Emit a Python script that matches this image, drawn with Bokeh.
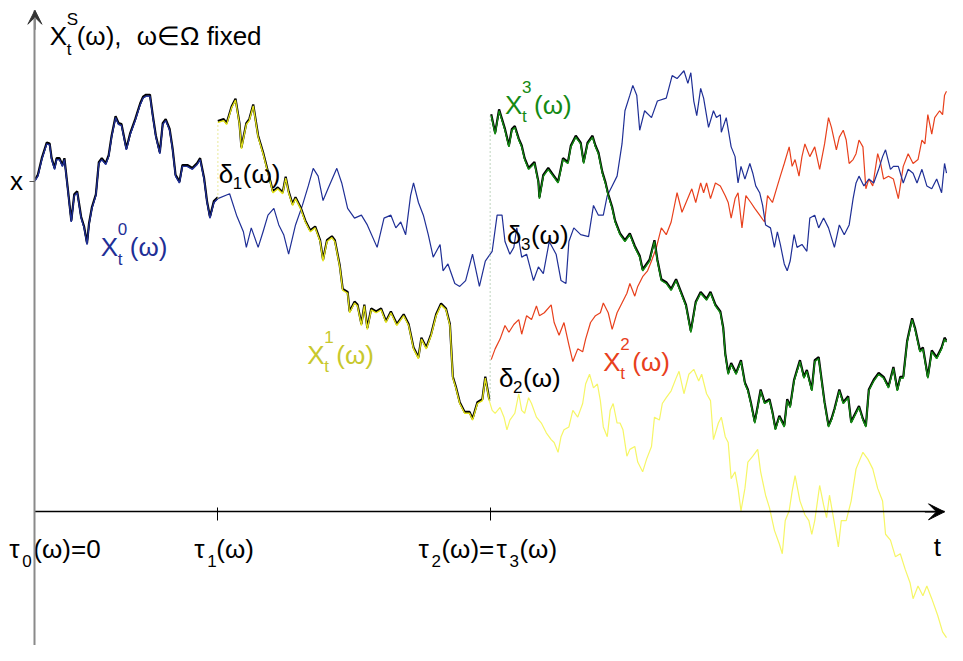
import numpy as np
from bokeh.plotting import figure
from bokeh.models import Range1d, Arrow, VeeHead, LinearAxis, FixedTicker
from bokeh.core.properties import value
from bokeh.embed import file_html
from bokeh.resources import INLINE

# ---------------- data (time t, value x) ----------------
TAU1 = 186          # tau_1(omega)
TAU2 = 463          # tau_2(omega) = tau_3(omega)
X_START = 339       # starting level x
T_END = 925         # end of the time axis
V_TOP = 514         # top of the value axis

# X^0_t (blue)
X0 = [(0,339),(3,344),(7,361),(12,377),(15,376),(17,361),(20,351),(22,361),(25,361),(28,354),(30,361),
      (33,334),(37,297),(40,324),(43,327),(47,301),(50,291),(53,274),(55,294),(58,311),(62,324),(65,357),
      (68,361),(72,356),(75,364),(78,384),(82,404),(85,397),(88,396),(93,371),(97,387),(102,401),(107,417),
      (110,424),(113,426),(117,426),(120,404),(123,384),(127,367),(130,397),(133,401),(137,391),(140,371),
      (143,344),(147,337),(150,354),(155,354),(160,351),(165,356),(168,361),(172,341),(175,317),(178,301),
      (182,317),(186,321),(198,326),(205,304),(212,287),(215,271),(220,291),(227,271),(232,287),(237,304),
      (243,311),(248,294),(253,284),(258,264),(265,294),(272,314),(278,334),(283,352),(288,344),(293,319),
      (298,331),(307,352),(312,337),(318,311),(325,301),(332,304),(338,294),(348,271),(355,301),(362,304),
      (367,291),(372,297),(377,284),(382,324),(385,337),(390,317),(395,304),(400,284),(405,261),(412,274),
      (415,247),(420,254),(427,234),(432,231),(438,237),(445,264),(452,231),(458,257),(465,267),(470,304),
      (475,304),(478,277),(483,264),(487,271),(490,291),(495,261),(500,264),(507,237),(512,251),(517,244),
      (523,277),(530,264),(535,237),(540,234),(543,277),(548,291),(555,284),(563,282),(568,314),(573,304),
      (578,304),(582,324),(587,334),(592,344),(597,377),(600,411),(605,427),(608,437),(612,427),(615,391),
      (620,411),(627,404),(633,421),(642,424),(648,447),(653,444),(660,452),(664,439),(667,450),(670,421),
      (673,406),(677,434),(680,424),(685,394),(690,411),(693,404),(697,407),(698,389),(703,404),(708,374),
      (712,364),(713,354),(715,337),(718,354),(722,341),(727,357),(730,347),(733,334),(737,327),(740,314),
      (743,294),(748,291),(752,271),(755,287),(758,274),(762,254),(765,247),(768,257),(772,284),(775,271),
      (780,274),(785,267),(788,301),(793,304),(797,291),(802,301),(807,291),(813,271),(818,294),(823,284),
      (828,294),(832,321),(835,337),(838,344),(843,334),(848,341),(853,337),(858,351),(862,364),(865,371),
      (870,351),(873,354),(878,354),(883,337),(888,351),(893,347),(897,337),(902,351),(907,334),(912,331),
      (917,341),(922,327),(925,357),(927,347)]

# X^1_t (yellow), starts at tau_1
X1 = [(186,399),(192,401),(195,397),(200,414),(204,422),(208,397),(210,372),(215,397),(218,401),(222,416),
      (227,384),(232,367),(237,347),(242,327),(247,331),(252,326),(255,342),(258,327),(262,314),(265,321),
      (270,311),(275,297),(280,287),(285,291),(290,277),(293,257),(297,277),(302,281),(305,277),(310,251),
      (313,227),(318,224),(320,204),(325,214),(328,211),(332,191),(335,211),(338,187),(342,207),(347,204),
      (352,207),(357,194),(362,204),(368,191),(375,201),(380,191),(385,167),(390,157),(393,177),(398,167),
      (403,181),(408,201),(413,212),(418,207),(422,191),(425,137),(428,127),(432,111),(437,101),(442,101),
      (445,94),(450,111),(455,114),(458,137),(462,114),(465,104),(468,101),(473,107),(477,97),(480,84),
      (483,94),(488,101),(492,121),(495,104),(498,101),(502,117),(505,111),(510,97),(515,91),(520,81),
      (525,74),(528,71),(532,61),(535,77),(538,84),(543,87),(547,104),(552,97),(557,111),(560,131),
      (564,141),(568,127),(572,131),(575,114),(578,87),(582,77),(585,104),(588,111),(592,91),(595,91),
      (598,84),(602,57),(605,64),(610,67),(613,51),(618,41),(622,54),(627,67),(630,97),(635,94),(638,111),
      (642,117),(647,124),(652,137),(655,144),(660,121),(665,141),(670,146),(675,134),(678,141),(683,121),
      (687,114),(690,74),(695,91),(698,97),(702,77),(705,71),(708,34),(712,41),(715,24),(718,1),(722,24),
      (725,51),(730,57),(735,64),(738,41),(743,17),(747,4),(752,-19),(757,-33),(760,-43),(763,-9),(767,1),
      (770,21),(773,37),(778,11),(783,-3),(787,-9),(790,-23),(793,-9),(798,27),(802,7),(805,-6),(808,17),
      (812,-6),(817,-36),(820,-9),(825,-9),(830,11),(835,44),(842,61),(847,54),(852,44),(857,24),(862,11),
      (865,-23),(870,-29),(875,-46),(880,-43),(885,-59),(890,-73),(893,-89),(898,-76),(903,-86),(907,-76),
      (912,-89),(918,-106),(923,-123),(927,-129)]

# X^2_t (red), starts at tau_2
X2 = [(464,156),(468,167),(473,177),(478,191),(482,184),(487,192),(492,197),(495,182),(500,201),(505,197),
      (510,211),(513,201),(518,204),(525,212),(528,194),(533,181),(538,194),(543,171),(547,154),(552,167),
      (557,164),(560,177),(565,194),(570,201),(575,204),(578,214),(583,204),(587,187),(592,204),(597,214),
      (602,224),(605,234),(610,221),(613,231),(618,241),(623,247),(627,257),(632,271),(637,291),(642,284),
      (647,297),(653,327),(658,307),(665,324),(668,331),(672,317),(677,337),(680,327),(683,337),(687,321),
      (692,337),(697,334),(702,324),(705,317),(708,301),(712,321),(715,327),(719,291),(723,324),(728,317),
      (732,311),(737,304),(742,297),(745,324),(750,317),(755,334),(758,344),(762,357),(767,374),(770,354),
      (773,361),(777,344),(780,364),(783,377),(788,364),(793,374),(798,351),(803,377),(807,404),(810,394),
      (815,371),(818,384),(822,391),(825,381),(828,357),(832,361),(835,367),(838,381),(842,374),(845,331),
      (848,341),(852,334),(857,367),(860,357),(863,341),(868,344),(873,341),(878,321),(883,354),(888,367),
      (893,357),(898,361),(902,381),(905,377),(908,407),(912,387),(915,404),(920,411),(923,407),(925,427),
      (927,431)]

# X^3_t (green), starts at tau_3
X3 = [(464,406),(468,387),(472,411),(475,401),(478,391),(482,374),(485,391),(488,394),(492,381),(495,374),
      (498,361),(502,351),(505,354),(508,357),(512,337),(513,321),(517,344),(522,351),(527,344),(532,337),
      (537,361),(542,357),(545,374),(550,384),(555,377),(558,357),(562,377),(567,384),(570,374),(573,367),
      (577,347),(580,337),(583,324),(587,311),(590,297),(595,284),(600,277),(605,284),(610,271),(615,261),
      (618,247),(625,257),(630,277),(633,257),(637,237),(642,234),(647,227),(652,237),(657,224),(662,211),
      (667,184),(672,214),(677,224),(683,217),(687,224),(692,211),(697,204),(700,187),(702,161),(705,141),
      (708,151),(713,141),(718,154),(722,131),(725,124),(728,111),(732,91),(735,107),(738,124),(742,111),
      (747,114),(750,101),(753,84),(757,97),(762,87),(765,114),(768,107),(772,134),(775,144),(778,154),
      (782,137),(785,144),(790,124),(793,154),(797,157),(800,134),(803,111),(807,87),(810,94),(813,104),
      (818,124),(822,111),(827,117),(830,91),(833,97),(838,107),(842,94),(845,87),(848,124),(853,134),
      (858,141),(863,137),(868,127),(873,147),(877,124),(880,137),(883,137),(887,174),(892,197),(895,187),
      (900,164),(903,167),(908,137),(912,164),(917,157),(922,167),(925,177),(927,174)]

BLUE = "#1f2f96"
RED = "#e8401c"
YELLOW = "#f6f666"
YELLOW_DARK = "#e2e21a"
YELLOW_TXT = "#c8c82c"
GREEN = "#148a14"
FONT = "Liberation Sans"


def unzip(pts):
    a = np.array(pts, dtype=float)
    return a[:, 0], a[:, 1]


t0, v0 = unzip(X0)
t1, v1 = unzip(X1)
t2, v2 = unzip(X2)
t3, v3 = unzip(X3)

p = figure(width=947, height=645, x_range=Range1d(-35, 928), y_range=Range1d(-137, 524),
           output_backend="svg", toolbar_location=None, min_border=0,
           x_axis_type=None, y_axis_type=None)
p.outline_line_color = None
p.background_fill_color = "white"
p.border_fill_color = "white"

# ---------------- axes ----------------
xax = LinearAxis(fixed_location=0, ticker=FixedTicker(ticks=[TAU1, TAU2], minor_ticks=[]),
                 bounds=(0, T_END), axis_line_color="black", axis_line_width=1.3,
                 major_tick_in=4, major_tick_out=9, major_tick_line_color="black",
                 minor_tick_line_color=None, major_label_overrides={TAU1: "", TAU2: ""})
p.add_layout(xax, "below")
yax = LinearAxis(fixed_location=0, ticker=FixedTicker(ticks=[X_START], minor_ticks=[]),
                 bounds=(-137, V_TOP), axis_line_color="#8a8a8a", axis_line_width=2,
                 major_tick_in=0, major_tick_out=5, major_tick_line_color="#555555",
                 minor_tick_line_color=None, major_label_overrides={X_START: "x"},
                 major_label_text_font=FONT, major_label_text_font_size="26px",
                 major_label_text_color="black", major_label_standoff=7)
p.add_layout(yax, "left")
p.add_layout(Arrow(x_start=T_END - 20, y_start=0, x_end=T_END, y_end=0, line_color="black",
                   line_width=1.3, end=VeeHead(size=16, fill_color="black", line_color="black")))
p.add_layout(Arrow(x_start=0, y_start=V_TOP - 20, x_end=0, y_end=V_TOP, line_color="#8a8a8a",
                   line_width=2, end=VeeHead(size=14, fill_color="#333333", line_color="#333333")))

# ---------------- paths ----------------
p.line(t1, v1, color=YELLOW, line_width=1.2)
p.line(t2, v2, color=RED, line_width=1.2)
p.line(t0, v0, color=BLUE, line_width=1.2)
p.line(t3, v3, color=GREEN, line_width=1.2)

m0 = t0 <= TAU1
m1 = (t1 >= TAU1) & (t1 <= TAU2)
m3 = t3 >= TAU2
# the switched path X^S: black, slightly above the coloured pieces
p.multi_line(xs=[t0[m0], t1[m1], t3[m3]], ys=[v0[m0] + 1.4, v1[m1] + 1.4, v3[m3] + 1.4],
             line_color="black", line_width=2.2)
p.line(t0[m0], v0[m0], color=BLUE, line_width=1.3)
p.line(t1[m1], v1[m1], color=YELLOW_DARK, line_width=1.3)
p.line(t3[m3], v3[m3], color=GREEN, line_width=1.3)

# jumps delta
p.segment(x0=[TAU1], y0=[v0[m0][-1]], x1=[TAU1], y1=[v1[m1][0]], line_color="#e4e47a",
          line_width=1.5, line_dash="1 3")
p.segment(x0=[TAU2], y0=[v1[m1][-1]], x1=[TAU2], y1=[v3[0]], line_color="#a9c6a9",
          line_width=1.5, line_dash="1 3")


# ---------------- texts ----------------
def label(t, v, parts, color):
    for txt, dx, dy, size in parts:
        p.text(x=[t], y=[v], text=[txt], x_offset=dx, y_offset=dy, text_font=value(FONT),
               text_font_size=size, text_color=color, text_align="left",
               text_baseline="alphabetic")


BIG, SMALL = "26px", "17px"

label(15, 488, [("X", 0, 0, BIG), ("S", 17, -16, SMALL), ("t", 17, 14, SMALL),
                ("(ω),", 27, 0, BIG), ("ω∈Ω fixed", 87, 0, BIG)], "black")


def x_label(t, v, k, color):
    label(t, v, [("X", 0, 0, BIG), (k, 17, -18, SMALL), ("t", 17, 12, SMALL),
                 ("(ω)", 29, 0, BIG)], color)


def d_label(t, v, k):
    label(t, v, [("δ", 0, 0, BIG), (k, 14, 9, SMALL), ("(ω)", 24, 0, BIG)], "black")


x_label(67, 271, "0", BLUE)
x_label(277, 161, "1", YELLOW_TXT)
x_label(578, 154, "2", RED)
x_label(478, 417, "3", GREEN)
d_label(187, 346, "1")
d_label(472, 137, "2")
d_label(480, 284, "3")

# tick labels on the time axis
label(-26, -38, [("τ", 0, 0, BIG), ("0", 13, 12, SMALL), ("(ω)=0", 24, 0, BIG)], "black")
label(TAU1 - 24, -38, [("τ", 0, 0, BIG), ("1", 13, 12, SMALL), ("(ω)", 22, 0, BIG)], "black")
label(TAU2 - 73, -38, [("τ", 0, 0, BIG), ("2", 13, 12, SMALL), ("(ω)=", 23, 0, BIG),
                       ("τ", 78, 0, BIG), ("3", 91, 12, SMALL), ("(ω)", 101, 0, BIG)], "black")
label(914, -36, [("t", 0, 0, BIG)], "black")

open("out.html", "w").write(file_html(p, INLINE))
